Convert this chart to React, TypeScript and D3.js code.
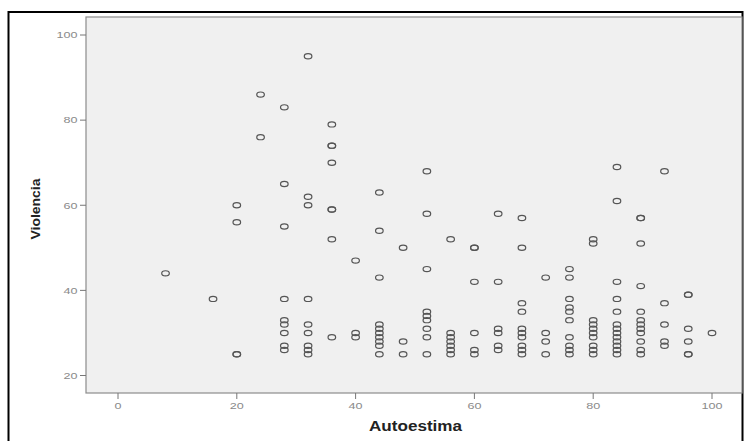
import React from "react";
import * as d3 from "d3";

// Autoestima (x) groups and the Violencia (y) values observed at each
const autoestimaGroups: number[] = [8, 16, 20, 24, 28, 32, 36, 40, 44, 48, 52, 56, 60, 64, 68, 72, 76, 80, 84, 88, 92, 96, 100];
const violenciaByGroup: number[][] = [
  [44],
  [38],
  [60, 56, 25, 25],
  [86, 76],
  [83, 65, 55, 38, 33, 32, 30, 27, 26],
  [95, 62, 60, 38, 32, 30, 27, 26, 25],
  [79, 74, 74, 70, 59, 59, 52, 29],
  [47, 30, 29],
  [63, 54, 43, 32, 31, 30, 29, 28, 27, 25],
  [50, 28, 25],
  [68, 58, 45, 35, 34, 33, 31, 29, 25],
  [52, 30, 29, 28, 27, 26, 25],
  [50, 50, 42, 30, 26, 25],
  [58, 42, 31, 30, 27, 26],
  [57, 50, 37, 35, 31, 30, 29, 27, 26, 25],
  [43, 30, 28, 25],
  [45, 43, 38, 36, 35, 33, 29, 27, 26, 25],
  [52, 51, 33, 32, 31, 30, 29, 27, 26, 25],
  [69, 61, 42, 38, 35, 32, 31, 30, 29, 28, 27, 26, 25],
  [57, 57, 51, 41, 35, 33, 32, 31, 30, 28, 26, 25],
  [68, 37, 32, 28, 27],
  [39, 39, 31, 28, 25, 25],
  [30],
];
const xTicks: number[] = [0, 20, 40, 60, 80, 100];
const yTicks: number[] = [20, 40, 60, 80, 100];
const xTitle = "Autoestima";
const yTitle = "Violencia";

export default function App() {
  const W = 744, H = 441;
  const left = 86, right = 742, top = 17, bottom = 393;
  const x = d3.scaleLinear().domain([0, 100]).range([118, 712]);
  const y = d3.scaleLinear().domain([20, 100]).range([375.5, 35]);

  const points: { a: number; v: number }[] = [];
  autoestimaGroups.forEach((a, i) => violenciaByGroup[i].forEach((v) => points.push({ a, v })));

  const font = "'Liberation Sans', Arial, sans-serif";
  const tickColor = "#8a8a8a";

  return (
    <svg width={W} height={H} style={{ position: "absolute", left: 0, top: 0, background: "#fff" }}>
      <rect x={8.5} y={12} width={734} height={460} fill="#fff" stroke="#000" strokeWidth={2} />
      <rect x={left} y={top} width={right - left} height={bottom - top} fill="#f0f0f0" stroke="#8c8c8c" strokeWidth={1.2} />
      {yTicks.map((t) => (
        <g key={"y" + t}>
          <line x1={80} x2={left} y1={y(t)} y2={y(t)} stroke="#777" strokeWidth={1} />
          <text x={77.5} y={y(t)} dy="0.35em" textAnchor="end" fontFamily={font} fontSize={9.5} fill={tickColor}
            textLength={t >= 100 ? 21 : 14} lengthAdjust="spacingAndGlyphs">{t}</text>
        </g>
      ))}
      {xTicks.map((t) => (
        <g key={"x" + t}>
          <line x1={x(t)} x2={x(t)} y1={bottom} y2={399} stroke="#777" strokeWidth={1} />
          <text x={x(t)} y={409} textAnchor="middle" fontFamily={font} fontSize={9.5} fill={tickColor}
            textLength={t >= 100 ? 21 : t === 0 ? 7 : 14} lengthAdjust="spacingAndGlyphs">{t}</text>
        </g>
      ))}
      {points.map((p, i) => (
        <ellipse key={i} cx={x(p.a)} cy={y(p.v)} rx={3.8} ry={2.6} fill="none" stroke="#555" strokeWidth={1.2} />
      ))}
      <text x={415.5} y={431} textAnchor="middle" fontFamily={font} fontWeight="bold" fontSize={14} fill="#222"
        textLength={93} lengthAdjust="spacingAndGlyphs">{xTitle}</text>
      <text transform={`translate(39.5,209) rotate(-90)`} textAnchor="middle" fontFamily={font} fontWeight="bold" fontSize={13} fill="#222"
        textLength={61} lengthAdjust="spacingAndGlyphs">{yTitle}</text>
    </svg>
  );
}
